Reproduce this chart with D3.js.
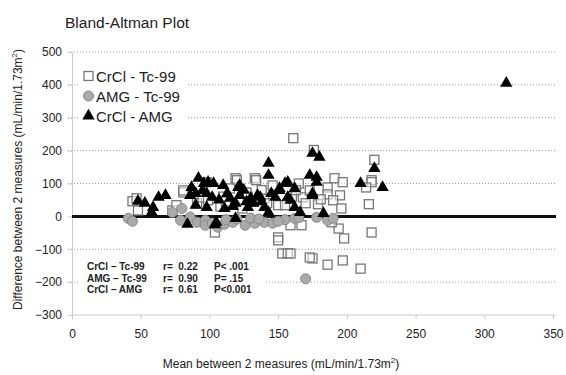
<!DOCTYPE html>
<html>
<head>
<meta charset="utf-8">
<script src="https://cdn.jsdelivr.net/npm/d3@7/dist/d3.min.js"></script>
<style>
  html, body { margin: 0; padding: 0; background: #fff; }
  svg { display: block; font-family: Arial, "Liberation Sans", sans-serif; }
</style>
</head>
<body>
<div id="chart"></div>
<script>
// [mean, difference] pairs
const crclTc99 = [
  [44, 46], [47, 55], [48, 18], [73, 18], [76, 34], [81, 73], [81, 79], [91, 40],
  [95, 58], [99, 49], [98, 104], [104, -49], [119, 116], [120, 110], [127, 73],
  [133, 116], [134, 110], [146, 94], [150, 34], [155, 34], [124, 24], [150, -64],
  [150, -73], [153, -113], [157, -112], [159, -113], [159, -27], [167, -27],
  [161, 238], [176, 202], [220, 172], [218, 110], [218, 104], [214, 88], [216, 37],
  [218, -49], [210, -159], [197, -134], [186, -147], [175, -128], [173, -125],
  [198, -67], [194, -37], [189, -18], [191, 116], [197, 104], [186, 88], [186, 67],
  [195, 64], [190, 49], [196, 24], [179, 37], [168, 58], [173, 79], [140, 55],
  [110, 60], [130, 45], [165, 100], [108, 30], [115, 85], [138, 80],
  [112, 45], [128, 60], [142, 40], [160, 60], [163, 80], [170, 40], [181, 52]
]
const amgTc99 = [
  [41, -6], [44, -15], [73, 12], [80, 24], [79, -12], [86, -2], [91, -18], [97, -12],
  [97, -27], [102, -21], [106, -33], [111, -24], [117, -18], [126, -27], [133, -21],
  [140, -18], [146, -21], [162, -6], [178, -3], [186, -12], [190, -6], [170, -190],
  [120, -8], [155, -10], [130, -5], [112, -10], [136, -8], [150, -15], [165, -4]
]
const crclAmg = [
  [48, 46], [53, 40], [59, 27], [58, 12], [63, 58], [68, 64], [84, -24], [86, 64],
  [87, 88], [90, 70], [90, 34], [92, 116], [95, 79], [96, 100], [99, 104], [102, 58],
  [98, 70], [98, 27], [103, 100], [110, 94], [113, 70], [119, 40], [121, 88],
  [122, 64], [122, 94], [128, 27], [132, 40], [135, 64], [137, 58], [140, 27],
  [143, 162], [143, 125], [143, 12], [148, 58], [151, 79], [151, 85], [155, 100],
  [157, 58], [157, 104], [159, 49], [162, 85], [162, 27], [166, 12], [173, 125],
  [175, 70], [175, 64], [175, 192], [178, 119], [178, 104], [180, 180], [183, 9],
  [210, 100], [220, 146], [226, 88], [316, 405], [105, -18], [119, -6], [111, 24],
  [104, -25], [107, 50], [115, 55], [125, 80], [130, 55], [138, 45], [145, 70],
  [117, 30], [127, 45]
]
const legendLabels = ['CrCl - Tc-99', 'AMG - Tc-99', 'CrCl - AMG']
const statRows = [
  ['CrCl \u2013 Tc-99', 'r=  0.22', 'P< .001'],
  ['AMG \u2013 Tc-99', 'r=  0.90', 'P= .15'],
  ['CrCl \u2013 AMG', 'r=  0.61', 'P<0.001']
]
const xTicks = [0, 50, 100, 150, 200, 250, 300, 350]
const yTicks = [-300, -200, -100, 0, 100, 200, 300, 400, 500]

const width = 566
const height = 375
const margin = { top: 52, right: 10, bottom: 60, left: 72 }

const svg = d3.select('#chart')
  .append('svg')
  .attr('width', width)
  .attr('height', height)

const x = d3.scaleLinear().domain([0, 350]).range([margin.left, 553])
const y = d3.scaleLinear().domain([-300, 500]).range([315, margin.top])

// title
svg.append('text')
  .attr('x', 65)
  .attr('y', 28)
  .attr('font-size', 15.5)
  .attr('fill', '#222')
  .text('Bland-Altman Plot')

// gridlines
svg.append('g')
  .selectAll('line')
  .data(yTicks.filter((d) => d !== -300 && d !== 0))
  .join('line')
  .attr('x1', x(0) - 4)
  .attr('x2', 556)
  .attr('y1', (d) => y(d))
  .attr('y2', (d) => y(d))
  .attr('stroke', '#999')
  .attr('stroke-width', 1)
  .attr('stroke-dasharray', '1,2')

// y axis
const yAxis = svg.append('g')
  .attr('transform', `translate(${x(0)},0)`)
  .call(d3.axisLeft(y).tickValues(yTicks).tickSize(4).tickPadding(6))
yAxis.select('.domain').attr('stroke', '#ccc')
yAxis.selectAll('.tick line').attr('stroke', '#ccc')
yAxis.selectAll('.tick text')
  .attr('font-size', 12)
  .attr('font-family', 'Arial, "Liberation Sans", sans-serif')
  .attr('fill', '#222')

// x axis
const xAxis = svg.append('g')
  .attr('transform', `translate(0,${y(-300)})`)
  .call(d3.axisBottom(x).tickValues(xTicks).tickSize(4).tickPadding(10).tickSizeOuter(0))
xAxis.select('.domain').attr('stroke', '#ccc').attr('d', `M${x(0)},0H556`)
xAxis.selectAll('.tick line').attr('stroke', '#ccc')
xAxis.selectAll('.tick text')
  .attr('font-size', 12)
  .attr('font-family', 'Arial, "Liberation Sans", sans-serif')
  .attr('fill', '#222')

// zero line
svg.append('line')
  .attr('x1', x(0))
  .attr('x2', 556)
  .attr('y1', y(0))
  .attr('y2', y(0))
  .attr('stroke', '#111')
  .attr('stroke-width', 3)

// axis titles
const yTitle = svg.append('text')
  .attr('transform', `translate(22,${(y(-300) + 40) / 2 + 2}) rotate(-90)`)
  .attr('text-anchor', 'middle')
  .attr('font-size', 12)
  .attr('fill', '#222')
yTitle.append('tspan').text('Difference between 2 measures (mL/min/1.73m')
yTitle.append('tspan').attr('dy', -5).attr('font-size', 8).text('2')
yTitle.append('tspan').attr('dy', 5).text(')')

const xTitle = svg.append('text')
  .attr('x', 281)
  .attr('y', 368)
  .attr('text-anchor', 'middle')
  .attr('font-size', 12)
  .attr('fill', '#222')
xTitle.append('tspan').text('Mean between 2 measures (mL/min/1.73m')
xTitle.append('tspan').attr('dy', -5).attr('font-size', 8).text('2')
xTitle.append('tspan').attr('dy', 5).text(')')

// markers
const marks = svg.append('g')
marks.selectAll('rect.sq')
  .data(crclTc99)
  .join('rect')
  .attr('class', 'sq')
  .attr('x', (d) => x(d[0]) - 4.5)
  .attr('y', (d) => y(d[1]) - 4.5)
  .attr('width', 9)
  .attr('height', 9)
  .attr('fill', '#fff')
  .attr('fill-opacity', 0.5)
  .attr('stroke', '#777')
  .attr('stroke-width', 1.3)

marks.selectAll('circle.ci')
  .data(amgTc99)
  .join('circle')
  .attr('class', 'ci')
  .attr('cx', (d) => x(d[0]))
  .attr('cy', (d) => y(d[1]))
  .attr('r', 5)
  .attr('fill', '#aaa')
  .attr('stroke', '#888')
  .attr('stroke-width', 1)

const tri = d3.symbol().type(d3.symbolTriangle).size(66)
marks.selectAll('path.tr')
  .data(crclAmg)
  .join('path')
  .attr('class', 'tr')
  .attr('transform', (d) => `translate(${x(d[0])},${y(d[1])})`)
  .attr('d', tri)
  .attr('fill', '#000')

// legend
const legend = svg.append('g')
legend.append('rect')
  .attr('x', 78)
  .attr('y', 64)
  .attr('width', 108)
  .attr('height', 60)
  .attr('fill', '#fff')
legendLabels.forEach((label, i) => {
  const cy = 76 + i * 20
  if (i === 0) {
    legend.append('rect')
      .attr('x', 84).attr('y', cy - 4.5).attr('width', 9).attr('height', 9)
      .attr('fill', '#fff').attr('stroke', '#777').attr('stroke-width', 1.3)
  } else if (i === 1) {
    legend.append('circle')
      .attr('cx', 88.5).attr('cy', cy).attr('r', 5)
      .attr('fill', '#aaa').attr('stroke', '#888')
  } else {
    legend.append('path')
      .attr('transform', `translate(88.5,${cy})`)
      .attr('d', tri)
      .attr('fill', '#000')
  }
  legend.append('text')
    .attr('x', 96)
    .attr('y', cy + 5.5)
    .attr('font-size', 15)
    .attr('fill', '#222')
    .text(label)
})

// stats box
const stats = svg.append('g')
stats.append('rect')
  .attr('x', 78)
  .attr('y', 256)
  .attr('width', 186)
  .attr('height', 42)
  .attr('fill', '#fff')
const statCols = [87, 163, 214]
statRows.forEach((row, i) => {
  row.forEach((cell, j) => {
    stats.append('text')
      .attr('x', statCols[j])
      .attr('y', 270 + i * 11.5)
      .attr('font-size', 10)
      .attr('font-weight', 'bold')
      .attr('fill', '#222')
      .attr('xml:space', 'preserve')
      .style('white-space', 'pre')
      .text(cell)
  })
})
</script>
</body>
</html>
